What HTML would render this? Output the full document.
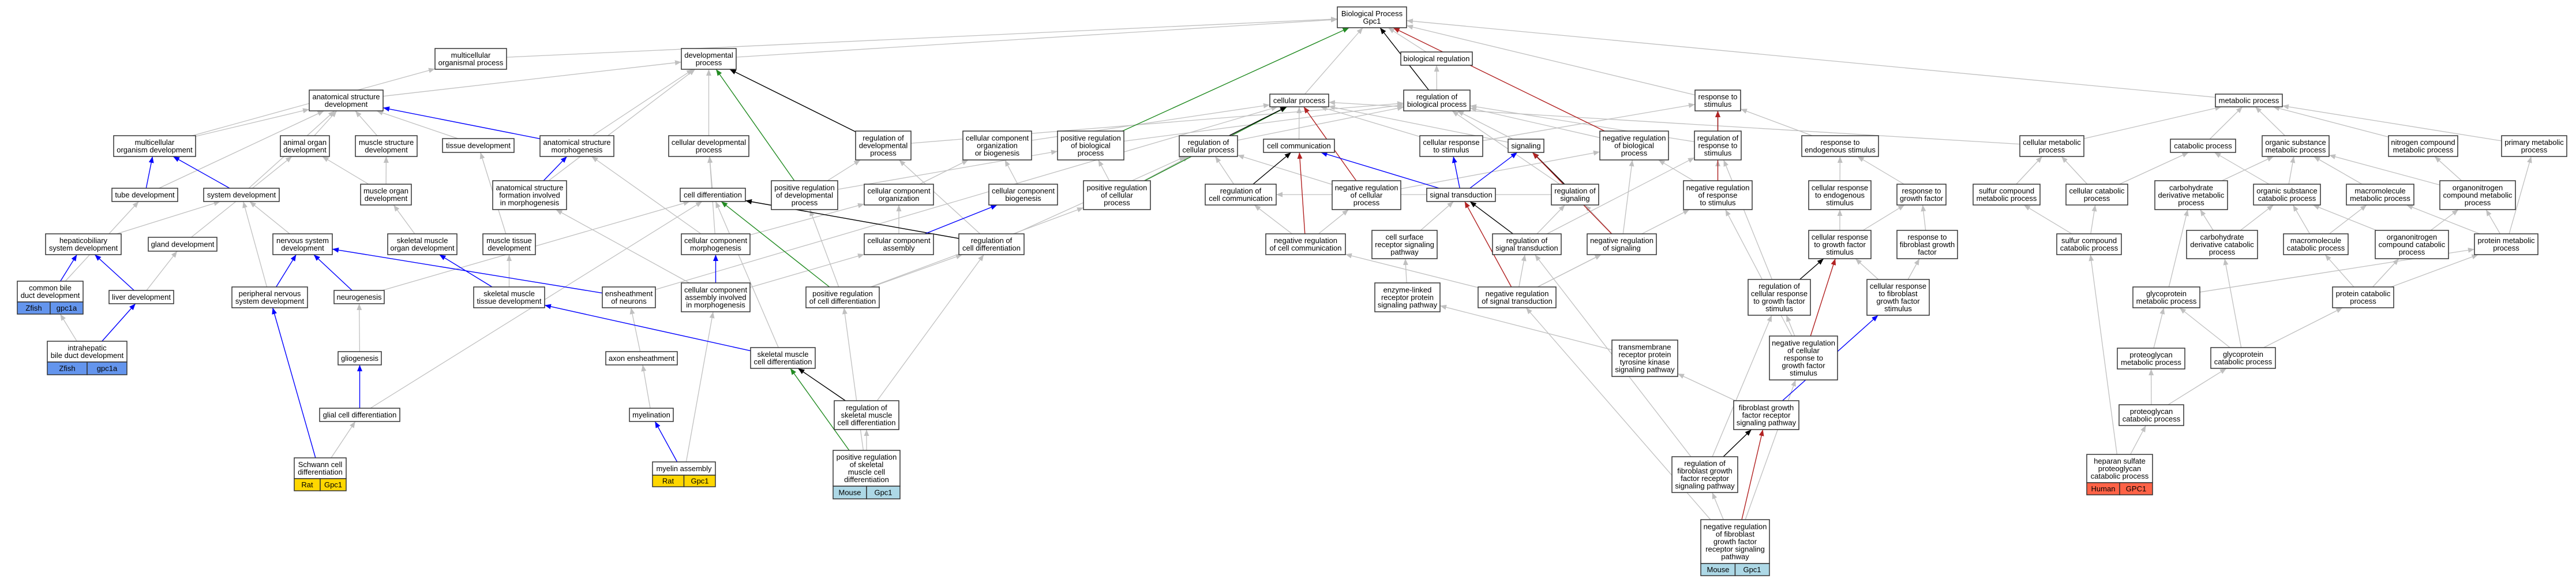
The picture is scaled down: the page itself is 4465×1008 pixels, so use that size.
<!DOCTYPE html>
<html><head><meta charset="utf-8">
<style>
html,body{margin:0;padding:0;background:#fff;}
svg{display:block;}
.n rect{fill:#fff;stroke:#333;stroke-width:1.5;}
text{font-family:"Liberation Sans",sans-serif;font-size:13px;text-anchor:middle;fill:#000;}
.z{fill:#6495ed !important;}
.y{fill:#ffd700 !important;}
.m{fill:#add8e6 !important;}
.h{fill:#ff6347 !important;}
</style></head>
<body>
<svg id="S" width="4465" height="1008" xmlns="http://www.w3.org/2000/svg">
<defs>
<marker id="ag" markerUnits="userSpaceOnUse" markerWidth="12" markerHeight="10" refX="11" refY="4.5" orient="auto"><path d="M0,0L11,4.5L0,9z" fill="#c0c0c0"/></marker>
<marker id="ab" markerUnits="userSpaceOnUse" markerWidth="12" markerHeight="10" refX="11" refY="4.5" orient="auto"><path d="M0,0L11,4.5L0,9z" fill="#0000ff"/></marker>
<marker id="ak" markerUnits="userSpaceOnUse" markerWidth="12" markerHeight="10" refX="11" refY="4.5" orient="auto"><path d="M0,0L11,4.5L0,9z" fill="#000"/></marker>
<marker id="agr" markerUnits="userSpaceOnUse" markerWidth="12" markerHeight="10" refX="11" refY="4.5" orient="auto"><path d="M0,0L11,4.5L0,9z" fill="#228b22"/></marker>
<marker id="ar" markerUnits="userSpaceOnUse" markerWidth="12" markerHeight="10" refX="11" refY="4.5" orient="auto"><path d="M0,0L11,4.5L0,9z" fill="#b22222"/></marker>
</defs>
<rect width="4465" height="1008" fill="#fff"/>
<g id="E"></g>
<g id="N">
<svg class="n" id="BP" x="2318" y="12" width="120" height="36" overflow="visible"><rect width="100%" height="100%"/><text x="50%" y="50%"><tspan x="50%" dy="-2">Biological Process</tspan><tspan x="50%" dy="13">Gpc1</tspan></text></svg>
<svg class="n" id="bioreg" x="2428" y="90" width="124" height="23" overflow="visible"><rect width="100%" height="100%"/><text x="50%" y="50%"><tspan x="50%" dy="4.5">biological regulation</tspan></text></svg>
<svg class="n" id="regbio" x="2433" y="156" width="115" height="36" overflow="visible"><rect width="100%" height="100%"/><text x="50%" y="50%"><tspan x="50%" dy="-2">regulation of</tspan><tspan x="50%" dy="13">biological process</tspan></text></svg>
<svg class="n" id="mop" x="754" y="84" width="124" height="36" overflow="visible"><rect width="100%" height="100%"/><text x="50%" y="50%"><tspan x="50%" dy="-2">multicellular</tspan><tspan x="50%" dy="13">organismal process</tspan></text></svg>
<svg class="n" id="dev" x="1181" y="84" width="95" height="36" overflow="visible"><rect width="100%" height="100%"/><text x="50%" y="50%"><tspan x="50%" dy="-2">developmental</tspan><tspan x="50%" dy="13">process</tspan></text></svg>
<svg class="n" id="asd" x="536" y="156" width="128" height="36" overflow="visible"><rect width="100%" height="100%"/><text x="50%" y="50%"><tspan x="50%" dy="-2">anatomical structure</tspan><tspan x="50%" dy="13">development</tspan></text></svg>
<svg class="n" id="mod" x="197" y="235" width="142" height="36" overflow="visible"><rect width="100%" height="100%"/><text x="50%" y="50%"><tspan x="50%" dy="-2">multicellular</tspan><tspan x="50%" dy="13">organism development</tspan></text></svg>
<svg class="n" id="aod" x="486" y="235" width="85" height="36" overflow="visible"><rect width="100%" height="100%"/><text x="50%" y="50%"><tspan x="50%" dy="-2">animal organ</tspan><tspan x="50%" dy="13">development</tspan></text></svg>
<svg class="n" id="msd" x="616" y="235" width="107" height="36" overflow="visible"><rect width="100%" height="100%"/><text x="50%" y="50%"><tspan x="50%" dy="-2">muscle structure</tspan><tspan x="50%" dy="13">development</tspan></text></svg>
<svg class="n" id="tube" x="194" y="326" width="114" height="23" overflow="visible"><rect width="100%" height="100%"/><text x="50%" y="50%"><tspan x="50%" dy="4.5">tube development</tspan></text></svg>
<svg class="n" id="sysdev" x="353" y="326" width="131" height="23" overflow="visible"><rect width="100%" height="100%"/><text x="50%" y="50%"><tspan x="50%" dy="4.5">system development</tspan></text></svg>
<svg class="n" id="mood" x="625" y="319" width="88" height="36" overflow="visible"><rect width="100%" height="100%"/><text x="50%" y="50%"><tspan x="50%" dy="-2">muscle organ</tspan><tspan x="50%" dy="13">development</tspan></text></svg>
<svg class="n" id="hep" x="79" y="405" width="131" height="36" overflow="visible"><rect width="100%" height="100%"/><text x="50%" y="50%"><tspan x="50%" dy="-2">hepaticobiliary</tspan><tspan x="50%" dy="13">system development</tspan></text></svg>
<svg class="n" id="gland" x="257" y="411" width="119" height="24" overflow="visible"><rect width="100%" height="100%"/><text x="50%" y="50%"><tspan x="50%" dy="4.5">gland development</tspan></text></svg>
<svg class="n" id="nsd" x="473" y="405" width="103" height="36" overflow="visible"><rect width="100%" height="100%"/><text x="50%" y="50%"><tspan x="50%" dy="-2">nervous system</tspan><tspan x="50%" dy="13">development</tspan></text></svg>
<svg class="n" id="smod" x="672" y="405" width="120" height="36" overflow="visible"><rect width="100%" height="100%"/><text x="50%" y="50%"><tspan x="50%" dy="-2">skeletal muscle</tspan><tspan x="50%" dy="13">organ development</tspan></text></svg>
<svg class="n" id="cbd" x="30" y="487" width="114" height="57" overflow="visible"><rect width="114" height="36"/><text x="57" y="18"><tspan x="57" dy="-2">common bile</tspan><tspan x="57" dy="13">duct development</tspan></text><rect class="z" x="0" y="36" width="57" height="21"/><rect class="z" x="57" y="36" width="57" height="21"/><text x="28.5" y="51">Zfish</text><text x="85.5" y="51">gpc1a</text></svg>
<svg class="n" id="liver" x="189" y="503" width="112" height="23" overflow="visible"><rect width="100%" height="100%"/><text x="50%" y="50%"><tspan x="50%" dy="4.5">liver development</tspan></text></svg>
<svg class="n" id="pns" x="402" y="497" width="131" height="36" overflow="visible"><rect width="100%" height="100%"/><text x="50%" y="50%"><tspan x="50%" dy="-2">peripheral nervous</tspan><tspan x="50%" dy="13">system development</tspan></text></svg>
<svg class="n" id="neuro" x="579" y="503" width="87" height="23" overflow="visible"><rect width="100%" height="100%"/><text x="50%" y="50%"><tspan x="50%" dy="4.5">neurogenesis</tspan></text></svg>
<svg class="n" id="ihbd" x="82" y="591" width="138" height="58" overflow="visible"><rect width="138" height="36"/><text x="69" y="18"><tspan x="69" dy="-2">intrahepatic</tspan><tspan x="69" dy="13">bile duct development</tspan></text><rect class="z" x="0" y="36" width="69" height="22"/><rect class="z" x="69" y="36" width="69" height="22"/><text x="34.5" y="51.5">Zfish</text><text x="103.5" y="51.5">gpc1a</text></svg>
<svg class="n" id="glio" x="586" y="609" width="75" height="23" overflow="visible"><rect width="100%" height="100%"/><text x="50%" y="50%"><tspan x="50%" dy="4.5">gliogenesis</tspan></text></svg>
<svg class="n" id="glial" x="554" y="707" width="139" height="23" overflow="visible"><rect width="100%" height="100%"/><text x="50%" y="50%"><tspan x="50%" dy="4.5">glial cell differentiation</tspan></text></svg>
<svg class="n" id="schwann" x="510" y="793" width="90" height="57" overflow="visible"><rect width="90" height="36"/><text x="45" y="18"><tspan x="45" dy="-2">Schwann cell</tspan><tspan x="45" dy="13">differentiation</tspan></text><rect class="y" x="0" y="36" width="45" height="21"/><rect class="y" x="45" y="36" width="45" height="21"/><text x="22.5" y="51">Rat</text><text x="67.5" y="51">Gpc1</text></svg>
<svg class="n" id="tissue" x="767" y="240" width="124" height="24" overflow="visible"><rect width="100%" height="100%"/><text x="50%" y="50%"><tspan x="50%" dy="4.5">tissue development</tspan></text></svg>
<svg class="n" id="asm" x="936" y="235" width="128" height="36" overflow="visible"><rect width="100%" height="100%"/><text x="50%" y="50%"><tspan x="50%" dy="-2">anatomical structure</tspan><tspan x="50%" dy="13">morphogenesis</tspan></text></svg>
<svg class="n" id="cdp" x="1159" y="235" width="139" height="36" overflow="visible"><rect width="100%" height="100%"/><text x="50%" y="50%"><tspan x="50%" dy="-2">cellular developmental</tspan><tspan x="50%" dy="13">process</tspan></text></svg>
<svg class="n" id="asf" x="854" y="313" width="128" height="50" overflow="visible"><rect width="100%" height="100%"/><text x="50%" y="50%"><tspan x="50%" dy="-8.5">anatomical structure</tspan><tspan x="50%" dy="13">formation involved</tspan><tspan x="50%" dy="13">in morphogenesis</tspan></text></svg>
<svg class="n" id="celldiff" x="1179" y="326" width="113" height="23" overflow="visible"><rect width="100%" height="100%"/><text x="50%" y="50%"><tspan x="50%" dy="4.5">cell differentiation</tspan></text></svg>
<svg class="n" id="prdp" x="1337" y="313" width="115" height="50" overflow="visible"><rect width="100%" height="100%"/><text x="50%" y="50%"><tspan x="50%" dy="-8.5">positive regulation</tspan><tspan x="50%" dy="13">of developmental</tspan><tspan x="50%" dy="13">process</tspan></text></svg>
<svg class="n" id="mtd" x="837" y="405" width="91" height="36" overflow="visible"><rect width="100%" height="100%"/><text x="50%" y="50%"><tspan x="50%" dy="-2">muscle tissue</tspan><tspan x="50%" dy="13">development</tspan></text></svg>
<svg class="n" id="ccm" x="1181" y="405" width="119" height="36" overflow="visible"><rect width="100%" height="100%"/><text x="50%" y="50%"><tspan x="50%" dy="-2">cellular component</tspan><tspan x="50%" dy="13">morphogenesis</tspan></text></svg>
<svg class="n" id="smtd" x="821" y="497" width="123" height="36" overflow="visible"><rect width="100%" height="100%"/><text x="50%" y="50%"><tspan x="50%" dy="-2">skeletal muscle</tspan><tspan x="50%" dy="13">tissue development</tspan></text></svg>
<svg class="n" id="eon" x="1044" y="497" width="92" height="36" overflow="visible"><rect width="100%" height="100%"/><text x="50%" y="50%"><tspan x="50%" dy="-2">ensheathment</tspan><tspan x="50%" dy="13">of neurons</tspan></text></svg>
<svg class="n" id="ccaim" x="1181" y="490" width="119" height="50" overflow="visible"><rect width="100%" height="100%"/><text x="50%" y="50%"><tspan x="50%" dy="-8.5">cellular component</tspan><tspan x="50%" dy="13">assembly involved</tspan><tspan x="50%" dy="13">in morphogenesis</tspan></text></svg>
<svg class="n" id="prcd" x="1397" y="497" width="127" height="36" overflow="visible"><rect width="100%" height="100%"/><text x="50%" y="50%"><tspan x="50%" dy="-2">positive regulation</tspan><tspan x="50%" dy="13">of cell differentiation</tspan></text></svg>
<svg class="n" id="axon" x="1050" y="609" width="124" height="23" overflow="visible"><rect width="100%" height="100%"/><text x="50%" y="50%"><tspan x="50%" dy="4.5">axon ensheathment</tspan></text></svg>
<svg class="n" id="smcd" x="1301" y="602" width="112" height="36" overflow="visible"><rect width="100%" height="100%"/><text x="50%" y="50%"><tspan x="50%" dy="-2">skeletal muscle</tspan><tspan x="50%" dy="13">cell differentiation</tspan></text></svg>
<svg class="n" id="rsmcd" x="1446" y="694" width="112" height="50" overflow="visible"><rect width="100%" height="100%"/><text x="50%" y="50%"><tspan x="50%" dy="-8.5">regulation of</tspan><tspan x="50%" dy="13">skeletal muscle</tspan><tspan x="50%" dy="13">cell differentiation</tspan></text></svg>
<svg class="n" id="myelination" x="1091" y="707" width="76" height="23" overflow="visible"><rect width="100%" height="100%"/><text x="50%" y="50%"><tspan x="50%" dy="4.5">myelination</tspan></text></svg>
<svg class="n" id="myelinas" x="1131" y="800" width="109" height="43" overflow="visible"><rect width="109" height="23"/><text x="54.5" y="16">myelin assembly</text><rect class="y" x="0" y="23" width="54.5" height="20"/><rect class="y" x="54.5" y="23" width="54.5" height="20"/><text x="27" y="37.5">Rat</text><text x="82" y="37.5">Gpc1</text></svg>
<svg class="n" id="prsmcd" x="1444" y="780" width="116" height="84" overflow="visible"><rect width="116" height="62"/><text x="58" y="31"><tspan x="58" dy="-15">positive regulation</tspan><tspan x="58" dy="13">of skeletal</tspan><tspan x="58" dy="13">muscle cell</tspan><tspan x="58" dy="13">differentiation</tspan></text><rect class="m" x="0" y="62" width="58" height="22"/><rect class="m" x="58" y="62" width="58" height="22"/><text x="29" y="77.5">Mouse</text><text x="87" y="77.5">Gpc1</text></svg>
<svg class="n" id="rdp" x="1483" y="227" width="96" height="50" overflow="visible"><rect width="100%" height="100%"/><text x="50%" y="50%"><tspan x="50%" dy="-8.5">regulation of</tspan><tspan x="50%" dy="13">developmental</tspan><tspan x="50%" dy="13">process</tspan></text></svg>
<svg class="n" id="ccoob" x="1669" y="227" width="119" height="50" overflow="visible"><rect width="100%" height="100%"/><text x="50%" y="50%"><tspan x="50%" dy="-8.5">cellular component</tspan><tspan x="50%" dy="13">organization</tspan><tspan x="50%" dy="13">or biogenesis</tspan></text></svg>
<svg class="n" id="prbp" x="1833" y="227" width="115" height="50" overflow="visible"><rect width="100%" height="100%"/><text x="50%" y="50%"><tspan x="50%" dy="-8.5">positive regulation</tspan><tspan x="50%" dy="13">of biological</tspan><tspan x="50%" dy="13">process</tspan></text></svg>
<svg class="n" id="rcp" x="2044" y="235" width="101" height="36" overflow="visible"><rect width="100%" height="100%"/><text x="50%" y="50%"><tspan x="50%" dy="-2">regulation of</tspan><tspan x="50%" dy="13">cellular process</tspan></text></svg>
<svg class="n" id="cc" x="2190" y="241" width="123" height="23" overflow="visible"><rect width="100%" height="100%"/><text x="50%" y="50%"><tspan x="50%" dy="4.5">cell communication</tspan></text></svg>
<svg class="n" id="cp" x="2201" y="163" width="102" height="22" overflow="visible"><rect width="100%" height="100%"/><text x="50%" y="50%"><tspan x="50%" dy="4.5">cellular process</tspan></text></svg>
<svg class="n" id="cco" x="1498" y="319" width="120" height="36" overflow="visible"><rect width="100%" height="100%"/><text x="50%" y="50%"><tspan x="50%" dy="-2">cellular component</tspan><tspan x="50%" dy="13">organization</tspan></text></svg>
<svg class="n" id="ccb" x="1714" y="319" width="119" height="36" overflow="visible"><rect width="100%" height="100%"/><text x="50%" y="50%"><tspan x="50%" dy="-2">cellular component</tspan><tspan x="50%" dy="13">biogenesis</tspan></text></svg>
<svg class="n" id="prcp" x="1878" y="313" width="116" height="50" overflow="visible"><rect width="100%" height="100%"/><text x="50%" y="50%"><tspan x="50%" dy="-8.5">positive regulation</tspan><tspan x="50%" dy="13">of cellular</tspan><tspan x="50%" dy="13">process</tspan></text></svg>
<svg class="n" id="rcc" x="2089" y="319" width="123" height="36" overflow="visible"><rect width="100%" height="100%"/><text x="50%" y="50%"><tspan x="50%" dy="-2">regulation of</tspan><tspan x="50%" dy="13">cell communication</tspan></text></svg>
<svg class="n" id="cca" x="1498" y="405" width="120" height="36" overflow="visible"><rect width="100%" height="100%"/><text x="50%" y="50%"><tspan x="50%" dy="-2">cellular component</tspan><tspan x="50%" dy="13">assembly</tspan></text></svg>
<svg class="n" id="rcd" x="1662" y="405" width="113" height="36" overflow="visible"><rect width="100%" height="100%"/><text x="50%" y="50%"><tspan x="50%" dy="-2">regulation of</tspan><tspan x="50%" dy="13">cell differentiation</tspan></text></svg>
<svg class="n" id="nrcc" x="2194" y="405" width="138" height="36" overflow="visible"><rect width="100%" height="100%"/><text x="50%" y="50%"><tspan x="50%" dy="-2">negative regulation</tspan><tspan x="50%" dy="13">of cell communication</tspan></text></svg>
<svg class="n" id="crs" x="2461" y="235" width="109" height="36" overflow="visible"><rect width="100%" height="100%"/><text x="50%" y="50%"><tspan x="50%" dy="-2">cellular response</tspan><tspan x="50%" dy="13">to stimulus</tspan></text></svg>
<svg class="n" id="sig" x="2614" y="241" width="62" height="23" overflow="visible"><rect width="100%" height="100%"/><text x="50%" y="50%"><tspan x="50%" dy="4.5">signaling</tspan></text></svg>
<svg class="n" id="nrbp" x="2773" y="227" width="119" height="50" overflow="visible"><rect width="100%" height="100%"/><text x="50%" y="50%"><tspan x="50%" dy="-8.5">negative regulation</tspan><tspan x="50%" dy="13">of biological</tspan><tspan x="50%" dy="13">process</tspan></text></svg>
<svg class="n" id="nrcp" x="2309" y="313" width="119" height="50" overflow="visible"><rect width="100%" height="100%"/><text x="50%" y="50%"><tspan x="50%" dy="-8.5">negative regulation</tspan><tspan x="50%" dy="13">of cellular</tspan><tspan x="50%" dy="13">process</tspan></text></svg>
<svg class="n" id="st" x="2473" y="326" width="119" height="23" overflow="visible"><rect width="100%" height="100%"/><text x="50%" y="50%"><tspan x="50%" dy="4.5">signal transduction</tspan></text></svg>
<svg class="n" id="rs" x="2689" y="319" width="82" height="36" overflow="visible"><rect width="100%" height="100%"/><text x="50%" y="50%"><tspan x="50%" dy="-2">regulation of</tspan><tspan x="50%" dy="13">signaling</tspan></text></svg>
<svg class="n" id="csr" x="2378" y="399" width="113" height="49" overflow="visible"><rect width="100%" height="100%"/><text x="50%" y="50%"><tspan x="50%" dy="-8.5">cell surface</tspan><tspan x="50%" dy="13">receptor signaling</tspan><tspan x="50%" dy="13">pathway</tspan></text></svg>
<svg class="n" id="rst" x="2587" y="405" width="119" height="36" overflow="visible"><rect width="100%" height="100%"/><text x="50%" y="50%"><tspan x="50%" dy="-2">regulation of</tspan><tspan x="50%" dy="13">signal transduction</tspan></text></svg>
<svg class="n" id="nrs" x="2751" y="405" width="120" height="36" overflow="visible"><rect width="100%" height="100%"/><text x="50%" y="50%"><tspan x="50%" dy="-2">negative regulation</tspan><tspan x="50%" dy="13">of signaling</tspan></text></svg>
<svg class="n" id="elr" x="2383" y="490" width="113" height="50" overflow="visible"><rect width="100%" height="100%"/><text x="50%" y="50%"><tspan x="50%" dy="-8.5">enzyme-linked</tspan><tspan x="50%" dy="13">receptor protein</tspan><tspan x="50%" dy="13">signaling pathway</tspan></text></svg>
<svg class="n" id="nrst" x="2562" y="497" width="135" height="36" overflow="visible"><rect width="100%" height="100%"/><text x="50%" y="50%"><tspan x="50%" dy="-2">negative regulation</tspan><tspan x="50%" dy="13">of signal transduction</tspan></text></svg>
<svg class="n" id="tmrtk" x="2794" y="589" width="114" height="63" overflow="visible"><rect width="100%" height="100%"/><text x="50%" y="50%"><tspan x="50%" dy="-15">transmembrane</tspan><tspan x="50%" dy="13">receptor protein</tspan><tspan x="50%" dy="13">tyrosine kinase</tspan><tspan x="50%" dy="13">signaling pathway</tspan></text></svg>
<svg class="n" id="rfgf" x="2898" y="791" width="114" height="62" overflow="visible"><rect width="100%" height="100%"/><text x="50%" y="50%"><tspan x="50%" dy="-15">regulation of</tspan><tspan x="50%" dy="13">fibroblast growth</tspan><tspan x="50%" dy="13">factor receptor</tspan><tspan x="50%" dy="13">signaling pathway</tspan></text></svg>
<svg class="n" id="nrfgf" x="2948" y="900" width="119" height="98" overflow="visible"><rect width="119" height="76"/><text x="59.5" y="38"><tspan x="59.5" dy="-21.5">negative regulation</tspan><tspan x="59.5" dy="13">of fibroblast</tspan><tspan x="59.5" dy="13">growth factor</tspan><tspan x="59.5" dy="13">receptor signaling</tspan><tspan x="59.5" dy="13">pathway</tspan></text><rect class="m" x="0" y="76" width="59.5" height="21"/><rect class="m" x="59.5" y="76" width="59.5" height="21"/><text x="30" y="91">Mouse</text><text x="89" y="91">Gpc1</text></svg>
<svg class="n" id="rtos" x="2938" y="156" width="79" height="36" overflow="visible"><rect width="100%" height="100%"/><text x="50%" y="50%"><tspan x="50%" dy="-2">response to</tspan><tspan x="50%" dy="13">stimulus</tspan></text></svg>
<svg class="n" id="rrs" x="2937" y="227" width="81" height="50" overflow="visible"><rect width="100%" height="100%"/><text x="50%" y="50%"><tspan x="50%" dy="-8.5">regulation of</tspan><tspan x="50%" dy="13">response to</tspan><tspan x="50%" dy="13">stimulus</tspan></text></svg>
<svg class="n" id="nrrs" x="2918" y="313" width="119" height="50" overflow="visible"><rect width="100%" height="100%"/><text x="50%" y="50%"><tspan x="50%" dy="-8.5">negative regulation</tspan><tspan x="50%" dy="13">of response</tspan><tspan x="50%" dy="13">to stimulus</tspan></text></svg>
<svg class="n" id="res" x="3123" y="235" width="133" height="36" overflow="visible"><rect width="100%" height="100%"/><text x="50%" y="50%"><tspan x="50%" dy="-2">response to</tspan><tspan x="50%" dy="13">endogenous stimulus</tspan></text></svg>
<svg class="n" id="cmp" x="3501" y="235" width="111" height="36" overflow="visible"><rect width="100%" height="100%"/><text x="50%" y="50%"><tspan x="50%" dy="-2">cellular metabolic</tspan><tspan x="50%" dy="13">process</tspan></text></svg>
<svg class="n" id="cres" x="3135" y="313" width="108" height="50" overflow="visible"><rect width="100%" height="100%"/><text x="50%" y="50%"><tspan x="50%" dy="-8.5">cellular response</tspan><tspan x="50%" dy="13">to endogenous</tspan><tspan x="50%" dy="13">stimulus</tspan></text></svg>
<svg class="n" id="rgf" x="3288" y="319" width="85" height="36" overflow="visible"><rect width="100%" height="100%"/><text x="50%" y="50%"><tspan x="50%" dy="-2">response to</tspan><tspan x="50%" dy="13">growth factor</tspan></text></svg>
<svg class="n" id="scmp" x="3420" y="319" width="116" height="36" overflow="visible"><rect width="100%" height="100%"/><text x="50%" y="50%"><tspan x="50%" dy="-2">sulfur compound</tspan><tspan x="50%" dy="13">metabolic process</tspan></text></svg>
<svg class="n" id="ccp" x="3581" y="319" width="107" height="36" overflow="visible"><rect width="100%" height="100%"/><text x="50%" y="50%"><tspan x="50%" dy="-2">cellular catabolic</tspan><tspan x="50%" dy="13">process</tspan></text></svg>
<svg class="n" id="crgf" x="3135" y="399" width="108" height="49" overflow="visible"><rect width="100%" height="100%"/><text x="50%" y="50%"><tspan x="50%" dy="-8.5">cellular response</tspan><tspan x="50%" dy="13">to growth factor</tspan><tspan x="50%" dy="13">stimulus</tspan></text></svg>
<svg class="n" id="rfgfr" x="3288" y="399" width="105" height="49" overflow="visible"><rect width="100%" height="100%"/><text x="50%" y="50%"><tspan x="50%" dy="-8.5">response to</tspan><tspan x="50%" dy="13">fibroblast growth</tspan><tspan x="50%" dy="13">factor</tspan></text></svg>
<svg class="n" id="sccp" x="3565" y="405" width="112" height="36" overflow="visible"><rect width="100%" height="100%"/><text x="50%" y="50%"><tspan x="50%" dy="-2">sulfur compound</tspan><tspan x="50%" dy="13">catabolic process</tspan></text></svg>
<svg class="n" id="rcrgf" x="3030" y="484" width="108" height="62" overflow="visible"><rect width="100%" height="100%"/><text x="50%" y="50%"><tspan x="50%" dy="-15">regulation of</tspan><tspan x="50%" dy="13">cellular response</tspan><tspan x="50%" dy="13">to growth factor</tspan><tspan x="50%" dy="13">stimulus</tspan></text></svg>
<svg class="n" id="crfgf" x="3236" y="484" width="108" height="62" overflow="visible"><rect width="100%" height="100%"/><text x="50%" y="50%"><tspan x="50%" dy="-15">cellular response</tspan><tspan x="50%" dy="13">to fibroblast</tspan><tspan x="50%" dy="13">growth factor</tspan><tspan x="50%" dy="13">stimulus</tspan></text></svg>
<svg class="n" id="nrcrgf" x="3067" y="582" width="118" height="76" overflow="visible"><rect width="100%" height="100%"/><text x="50%" y="50%"><tspan x="50%" dy="-21.5">negative regulation</tspan><tspan x="50%" dy="13">of cellular</tspan><tspan x="50%" dy="13">response to</tspan><tspan x="50%" dy="13">growth factor</tspan><tspan x="50%" dy="13">stimulus</tspan></text></svg>
<svg class="n" id="fgf" x="3005" y="694" width="113" height="50" overflow="visible"><rect width="100%" height="100%"/><text x="50%" y="50%"><tspan x="50%" dy="-8.5">fibroblast growth</tspan><tspan x="50%" dy="13">factor receptor</tspan><tspan x="50%" dy="13">signaling pathway</tspan></text></svg>
<svg class="n" id="hspg" x="3617" y="787" width="114" height="70" overflow="visible"><rect width="114" height="49"/><text x="57" y="24.5"><tspan x="57" dy="-8.5">heparan sulfate</tspan><tspan x="57" dy="13">proteoglycan</tspan><tspan x="57" dy="13">catabolic process</tspan></text><rect class="h" x="0" y="49" width="57" height="21"/><rect class="h" x="57" y="49" width="57" height="21"/><text x="28.5" y="64">Human</text><text x="85.5" y="64">GPC1</text></svg>
<svg class="n" id="mp" x="3840" y="163" width="116" height="22" overflow="visible"><rect width="100%" height="100%"/><text x="50%" y="50%"><tspan x="50%" dy="4.5">metabolic process</tspan></text></svg>
<svg class="n" id="catp" x="3762" y="241" width="113" height="23" overflow="visible"><rect width="100%" height="100%"/><text x="50%" y="50%"><tspan x="50%" dy="4.5">catabolic process</tspan></text></svg>
<svg class="n" id="osmp" x="3921" y="235" width="116" height="36" overflow="visible"><rect width="100%" height="100%"/><text x="50%" y="50%"><tspan x="50%" dy="-2">organic substance</tspan><tspan x="50%" dy="13">metabolic process</tspan></text></svg>
<svg class="n" id="ncmp" x="4140" y="235" width="120" height="36" overflow="visible"><rect width="100%" height="100%"/><text x="50%" y="50%"><tspan x="50%" dy="-2">nitrogen compound</tspan><tspan x="50%" dy="13">metabolic process</tspan></text></svg>
<svg class="n" id="pmp" x="4336" y="235" width="113" height="36" overflow="visible"><rect width="100%" height="100%"/><text x="50%" y="50%"><tspan x="50%" dy="-2">primary metabolic</tspan><tspan x="50%" dy="13">process</tspan></text></svg>
<svg class="n" id="cdmp" x="3735" y="313" width="126" height="50" overflow="visible"><rect width="100%" height="100%"/><text x="50%" y="50%"><tspan x="50%" dy="-8.5">carbohydrate</tspan><tspan x="50%" dy="13">derivative metabolic</tspan><tspan x="50%" dy="13">process</tspan></text></svg>
<svg class="n" id="oscp" x="3906" y="319" width="116" height="36" overflow="visible"><rect width="100%" height="100%"/><text x="50%" y="50%"><tspan x="50%" dy="-2">organic substance</tspan><tspan x="50%" dy="13">catabolic process</tspan></text></svg>
<svg class="n" id="mmp" x="4067" y="319" width="117" height="36" overflow="visible"><rect width="100%" height="100%"/><text x="50%" y="50%"><tspan x="50%" dy="-2">macromolecule</tspan><tspan x="50%" dy="13">metabolic process</tspan></text></svg>
<svg class="n" id="oncmp" x="4229" y="313" width="131" height="50" overflow="visible"><rect width="100%" height="100%"/><text x="50%" y="50%"><tspan x="50%" dy="-8.5">organonitrogen</tspan><tspan x="50%" dy="13">compound metabolic</tspan><tspan x="50%" dy="13">process</tspan></text></svg>
<svg class="n" id="cdcp" x="3790" y="399" width="123" height="49" overflow="visible"><rect width="100%" height="100%"/><text x="50%" y="50%"><tspan x="50%" dy="-8.5">carbohydrate</tspan><tspan x="50%" dy="13">derivative catabolic</tspan><tspan x="50%" dy="13">process</tspan></text></svg>
<svg class="n" id="mcp" x="3958" y="405" width="112" height="36" overflow="visible"><rect width="100%" height="100%"/><text x="50%" y="50%"><tspan x="50%" dy="-2">macromolecule</tspan><tspan x="50%" dy="13">catabolic process</tspan></text></svg>
<svg class="n" id="onccp" x="4117" y="399" width="127" height="49" overflow="visible"><rect width="100%" height="100%"/><text x="50%" y="50%"><tspan x="50%" dy="-8.5">organonitrogen</tspan><tspan x="50%" dy="13">compound catabolic</tspan><tspan x="50%" dy="13">process</tspan></text></svg>
<svg class="n" id="protmp" x="4289" y="405" width="110" height="36" overflow="visible"><rect width="100%" height="100%"/><text x="50%" y="50%"><tspan x="50%" dy="-2">protein metabolic</tspan><tspan x="50%" dy="13">process</tspan></text></svg>
<svg class="n" id="gmp" x="3697" y="497" width="116" height="36" overflow="visible"><rect width="100%" height="100%"/><text x="50%" y="50%"><tspan x="50%" dy="-2">glycoprotein</tspan><tspan x="50%" dy="13">metabolic process</tspan></text></svg>
<svg class="n" id="pcp" x="4043" y="497" width="106" height="36" overflow="visible"><rect width="100%" height="100%"/><text x="50%" y="50%"><tspan x="50%" dy="-2">protein catabolic</tspan><tspan x="50%" dy="13">process</tspan></text></svg>
<svg class="n" id="pgmp" x="3670" y="603" width="117" height="36" overflow="visible"><rect width="100%" height="100%"/><text x="50%" y="50%"><tspan x="50%" dy="-2">proteoglycan</tspan><tspan x="50%" dy="13">metabolic process</tspan></text></svg>
<svg class="n" id="gcp" x="3832" y="602" width="112" height="36" overflow="visible"><rect width="100%" height="100%"/><text x="50%" y="50%"><tspan x="50%" dy="-2">glycoprotein</tspan><tspan x="50%" dy="13">catabolic process</tspan></text></svg>
<svg class="n" id="pgcp" x="3673" y="701" width="112" height="36" overflow="visible"><rect width="100%" height="100%"/><text x="50%" y="50%"><tspan x="50%" dy="-2">proteoglycan</tspan><tspan x="50%" dy="13">catabolic process</tspan></text></svg>
</g>
</svg>
<script>
(function(){
var C={g:'#c0c0c0',b:'#0000ff',k:'#000000',gr:'#228b22',r:'#b22222'};
var M={g:'ag',b:'ab',k:'ak',gr:'agr',r:'ar'};
var E=[
['mop','BP','g'],['dev','BP','g'],['cp','BP','g'],['bioreg','BP','g'],['rtos','BP','g'],['mp','BP','g'],
['regbio','BP','k'],['prbp','BP','gr'],['nrbp','BP','r'],['regbio','bioreg','g'],
['mod','mop','g'],['mod','asd','g'],['asd','dev','g'],['tube','asd','g'],['sysdev','asd','g'],['aod','asd','g'],['msd','asd','g'],['tissue','asd','g'],
['asm','asd','b'],['mood','aod','g'],['mood','msd','g'],['smod','mood','g'],['hep','sysdev','g'],['gland','aod','g'],['liver','gland','g'],
['nsd','sysdev','g'],['pns','sysdev','g'],['cbd','tube','g'],['ihbd','cbd','g'],['tube','mod','b'],['sysdev','mod','b'],
['cbd','hep','b'],['liver','hep','b'],['ihbd','liver','b'],['pns','nsd','b'],['neuro','nsd','b'],['eon','nsd','b'],['glial','glio','b'],['schwann','pns','b'],
['glio','neuro','g'],['neuro','celldiff','g'],['glial','celldiff','g'],['schwann','glial','g'],
['asm','dev','g'],['asf','dev','g'],['cdp','dev','g'],['celldiff','cdp','g'],['asf','asm','b'],['mtd','tissue','g'],['smtd','mtd','g'],['smtd','smod','b'],
['ccm','asm','g'],['ccm','cdp','g'],['ccm','cco','g'],['ccaim','asf','g'],['ccaim','cca','g'],['ccaim','ccm','b'],
['eon','cp','g'],['axon','eon','g'],['myelination','axon','g'],['myelinas','myelination','b'],['myelinas','ccaim','g'],
['smcd','celldiff','g'],['smcd','smtd','b'],['rsmcd','smcd','k'],['prsmcd','smcd','gr'],['prsmcd','rsmcd','g'],['prsmcd','prcd','g'],
['rdp','dev','k'],['prdp','dev','gr'],['prdp','rdp','g'],['prdp','prbp','g'],['prcd','celldiff','gr'],['prcd','prdp','g'],['prcd','rcd','g'],['prcd','prcp','g'],
['rsmcd','rcd','g'],['rcd','celldiff','k'],['rcd','rdp','g'],['rcd','rcp','g'],['rdp','regbio','g'],
['ccoob','cp','g'],['cco','ccoob','g'],['ccb','ccoob','g'],['cca','cco','g'],['cca','ccb','b'],
['prbp','regbio','g'],['prcp','prbp','g'],['prcp','rcp','g'],['prcp','cp','gr'],['rcp','regbio','g'],['rcp','cp','k'],['cc','cp','g'],
['rcc','rcp','g'],['rcc','cc','k'],['nrcc','rcc','g'],['nrcc','nrcp','g'],['nrcc','cc','r'],['nrcp','rcp','g'],['nrcp','nrbp','g'],['nrcp','cp','r'],
['crs','cp','g'],['crs','rtos','g'],['sig','cp','g'],['sig','regbio','g'],['st','cc','b'],['st','crs','b'],['st','sig','b'],
['rs','regbio','g'],['rs','sig','k'],['rs','rcc','g'],['nrbp','regbio','g'],['nrs','rs','g'],['nrs','nrbp','g'],['nrs','sig','r'],
['rst','rs','g'],['rst','rrs','g'],['rst','st','k'],['nrst','rst','g'],['nrst','nrs','g'],['nrst','nrrs','g'],['nrst','nrcc','g'],['nrst','st','r'],
['csr','st','g'],['elr','csr','g'],['tmrtk','elr','g'],['fgf','tmrtk','g'],['fgf','crfgf','b'],
['rfgf','rst','g'],['rfgf','rcrgf','g'],['rfgf','fgf','k'],['nrfgf','rfgf','g'],['nrfgf','nrst','g'],['nrfgf','nrcrgf','g'],['nrfgf','fgf','r'],
['rrs','regbio','g'],['rrs','rtos','k'],['nrrs','rrs','g'],['nrrs','nrbp','g'],['nrrs','rtos','r'],
['res','rtos','g'],['cres','res','g'],['rgf','res','g'],['crgf','cres','g'],['crgf','rgf','g'],['rfgfr','rgf','g'],['crfgf','crgf','g'],['crfgf','rfgfr','g'],
['rcrgf','rrs','g'],['rcrgf','crgf','k'],['nrcrgf','rcrgf','g'],['nrcrgf','nrrs','g'],['nrcrgf','crgf','r'],
['cmp','mp','g'],['cmp','cp','g'],['scmp','cmp','g'],['ccp','cmp','g'],['ccp','catp','g'],['sccp','scmp','g'],['sccp','ccp','g'],['hspg','sccp','g'],['hspg','pgcp','g'],
['catp','mp','g'],['osmp','mp','g'],['ncmp','mp','g'],['pmp','mp','g'],['cdmp','osmp','g'],['oscp','osmp','g'],['oscp','catp','g'],['mmp','osmp','g'],['oncmp','osmp','g'],['oncmp','ncmp','g'],
['cdcp','cdmp','g'],['cdcp','oscp','g'],['mcp','oscp','g'],['mcp','mmp','g'],['onccp','oscp','g'],['onccp','oncmp','g'],['protmp','mmp','g'],['protmp','oncmp','g'],['protmp','pmp','g'],
['gmp','cdmp','g'],['gmp','protmp','g'],['pcp','mcp','g'],['pcp','onccp','g'],['pcp','protmp','g'],['pgmp','gmp','g'],['gcp','gmp','g'],['gcp','cdcp','g'],['gcp','pcp','g'],['pgcp','pgmp','g'],['pgcp','gcp','g']
];
function box(id){var e=document.getElementById(id);return {x:+e.getAttribute('x'),y:+e.getAttribute('y'),w:+e.getAttribute('width'),h:+e.getAttribute('height')};}
function clip(b,tx,ty){var cx=b.x+b.w/2,cy=b.y+b.h/2,dx=tx-cx,dy=ty-cy;var s=1e9;if(dx!==0)s=Math.min(s,(b.w/2)/Math.abs(dx));if(dy!==0)s=Math.min(s,(b.h/2)/Math.abs(dy));return [cx+dx*s,cy+dy*s];}
var g=document.getElementById('E'),ns='http://www.w3.org/2000/svg',out=[];
E.forEach(function(e){var a=box(e[0]),b=box(e[1]);var ac=[a.x+a.w/2,a.y+a.h/2],bc=[b.x+b.w/2,b.y+b.h/2];
var p1=clip(a,bc[0],bc[1]),p2=clip(b,ac[0],ac[1]);
var l=document.createElementNS(ns,'line');l.setAttribute('x1',p1[0]);l.setAttribute('y1',p1[1]);l.setAttribute('x2',p2[0]);l.setAttribute('y2',p2[1]);
l.setAttribute('stroke',C[e[2]]);l.setAttribute('stroke-width',e[2]=='g'?1.3:1.4);l.setAttribute('marker-end','url(#'+M[e[2]]+')');
if(e[2]=='g')g.insertBefore(l,g.firstChild);else g.appendChild(l);});
})();
</script>
</body></html>
